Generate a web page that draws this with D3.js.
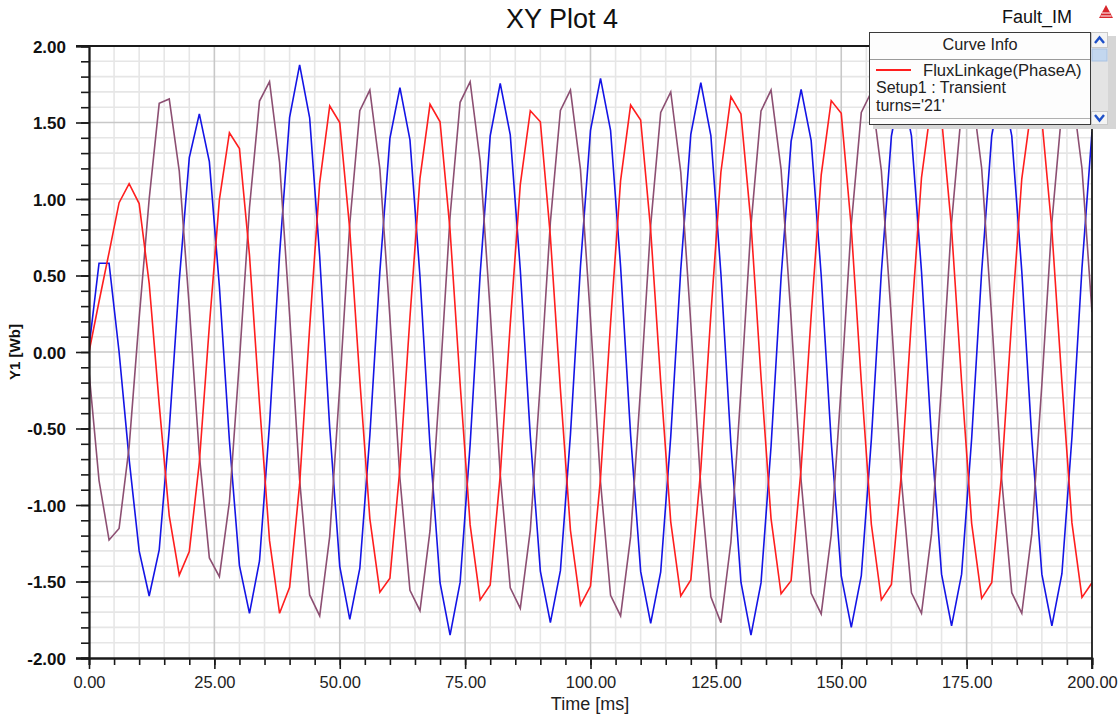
<!DOCTYPE html>
<html>
<head>
<meta charset="utf-8">
<script src="https://cdn.jsdelivr.net/npm/d3@7"></script>
<style>
  html, body { margin: 0; padding: 0; background: #ffffff; }
  svg { display: block; font-family: "Liberation Sans", Arial, sans-serif; }
</style>
</head>
<body>
<svg id="chart" width="1120" height="720"></svg>
<script>
// Sample times [ms]
const timeMs = [
  0, 2, 4, 6, 8, 10, 12, 14, 16, 18, 20, 22, 24, 26, 28, 30, 32, 34, 36, 38,
  40, 42, 44, 46, 48, 50, 52, 54, 56, 58, 60, 62, 64, 66, 68, 70, 72, 74, 76, 78,
  80, 82, 84, 86, 88, 90, 92, 94, 96, 98, 100, 102, 104, 106, 108, 110, 112, 114, 116, 118,
  120, 122, 124, 126, 128, 130, 132, 134, 136, 138, 140, 142, 144, 146, 148, 150, 152, 154, 156, 158,
  160, 162, 164, 166, 168, 170, 172, 174, 176, 178, 180, 182, 184, 186, 188, 190, 192, 194, 196, 198, 200
];

// Flux linkage [Wb], phase A (red)
const fluxPhaseA = [
  0, 0.33, 0.65, 0.976, 1.10, 0.97, 0.449, -0.342, -1.071, -1.458,
  -1.305, -0.722, 0.172, 0.996, 1.433, 1.33, 0.633, -0.337, -1.233, -1.708,
  -1.538, -0.864, 0.161, 1.106, 1.608, 1.50, 0.799, -0.183, -1.089, -1.57,
  -1.479, -0.758, 0.227, 1.137, 1.619, 1.505, 0.795, -0.206, -1.13, -1.62,
  -1.523, -0.806, 0.182, 1.094, 1.577, 1.505, 0.754, -0.244, -1.165, -1.654,
  -1.53, -0.822, 0.188, 1.12, 1.614, 1.516, 0.797, -0.195, -1.11, -1.595,
  -1.49, -0.764, 0.245, 1.175, 1.669, 1.556, 0.842, -0.162, -1.089, -1.58,
  -1.495, -0.759, 0.237, 1.156, 1.643, 1.56, 0.812, -0.196, -1.126, -1.62,
  -1.52, -0.793, 0.212, 1.139, 1.63, 1.53, 0.805, -0.196, -1.12, -1.61,
  -1.508, -0.788, 0.211, 1.132, 1.62, 1.52, 0.799, -0.197, -1.117, -1.604,
  -1.508
];

// Flux linkage [Wb], phase B (blue)
const fluxPhaseB = [
  0.03, 0.58, 0.58, 0.0, -0.70, -1.30, -1.595, -1.294, -0.506, 0.467,
  1.27, 1.556, 1.244, 0.428, -0.58, -1.396, -1.708, -1.366, -0.47, 0.638,
  1.534, 1.876, 1.53, 0.624, -0.495, -1.401, -1.747, -1.415, -0.546, 0.527,
  1.396, 1.728, 1.386, 0.492, -0.614, -1.508, -1.85, -1.506, -0.604, 0.51,
  1.412, 1.756, 1.419, 0.538, -0.551, -1.432, -1.769, -1.429, -0.54, 0.56,
  1.449, 1.789, 1.449, 0.558, -0.543, -1.434, -1.774, -1.437, -0.553, 0.539,
  1.423, 1.76, 1.415, 0.513, -0.603, -1.505, -1.85, -1.509, -0.618, 0.485,
  1.376, 1.717, 1.381, 0.502, -0.585, -1.464, -1.80, -1.461, -0.573, 0.523,
  1.411, 1.75, 1.412, 0.527, -0.567, -1.452, -1.79, -1.452, -0.567, 0.527,
  1.412, 1.75, 1.412, 0.527, -0.567, -1.452, -1.79, -1.449, -0.557, 0.547,
  1.439
];

// Flux linkage [Wb], phase C (mauve)
const fluxPhaseC = [
  -0.13, -0.84, -1.229, -1.153, -0.62, 0.22, 1.0, 1.625, 1.654, 1.182,
  0.292, -0.673, -1.346, -1.468, -0.979, -0.056, 0.943, 1.64, 1.767, 1.239,
  0.243, -0.836, -1.588, -1.725, -1.205, -0.225, 0.837, 1.577, 1.712, 1.198,
  0.227, -0.825, -1.558, -1.691, -1.168, -0.182, 0.887, 1.632, 1.767, 1.246,
  0.265, -0.799, -1.541, -1.676, -1.164, -0.198, 0.849, 1.579, 1.712, 1.192,
  0.212, -0.85, -1.59, -1.725, -1.207, -0.231, 0.828, 1.566, 1.70, 1.175,
  0.186, -0.886, -1.60, -1.769, -1.242, -0.25, 0.826, 1.575, 1.712, 1.194,
  0.218, -0.84, -1.577, -1.712, -1.196, -0.223, 0.831, 1.566, 1.70, 1.184,
  0.213, -0.84, -1.574, -1.708, -1.189, -0.212, 0.847, 1.585, 1.72, 1.201,
  0.224, -0.835, -1.573, -1.708, -1.189, -0.212, 0.847, 1.585, 1.72, 1.201,
  0.26
];

const yTickValues = [2.0, 1.5, 1.0, 0.5, 0.0, -0.5, -1.0, -1.5, -2.0];
const xTickValues = [0, 25, 50, 75, 100, 125, 150, 175, 200];
const yMinorStep = 0.1;
const xMinorStep = 5;

const titleText = "XY Plot 4";
const designText = "Fault_IM";
const xTitle = "Time [ms]";
const yTitle = "Y1 [Wb]";
const legendHeader = "Curve Info";
const legendLines = ["FluxLinkage(PhaseA)", "Setup1 : Transient", "turns='21'"];

const series = [
  { name: "PhaseA", values: fluxPhaseA, color: "#ff1e1e" },
  { name: "PhaseB", values: fluxPhaseB, color: "#1414e6" },
  { name: "PhaseC", values: fluxPhaseC, color: "#8c4f72" }
];

// ---------------------------------------------------------------
const svg = d3.select("#chart");
const plot = { left: 89, right: 1092, top: 46, bottom: 658 };

const x = d3.scaleLinear().domain([0, 200]).range([plot.left, plot.right]);
const y = d3.scaleLinear().domain([-2, 2]).range([plot.bottom, plot.top]);

const fmt = v => v.toFixed(2);

const yMinor = d3.range(-20, 21).map(i => +(i * yMinorStep).toFixed(2));
const xMinor = d3.range(0, 41).map(i => i * xMinorStep);

// grid
const grid = svg.append("g");
grid.selectAll("line.vminor").data(xMinor.filter(v => v % 25 !== 0))
  .join("line")
  .attr("x1", d => x(d)).attr("x2", d => x(d))
  .attr("y1", plot.top).attr("y2", plot.bottom)
  .attr("stroke", "#e6e6e6").attr("stroke-width", 1.6);
grid.selectAll("line.hminor").data(yMinor.filter(v => Math.abs(Math.round(v * 10)) % 5 !== 0))
  .join("line")
  .attr("x1", plot.left).attr("x2", plot.right)
  .attr("y1", d => y(d)).attr("y2", d => y(d))
  .attr("stroke", "#e6e6e6").attr("stroke-width", 1.6);
grid.selectAll("line.vmajor").data(xTickValues.slice(1, -1))
  .join("line")
  .attr("x1", d => x(d)).attr("x2", d => x(d))
  .attr("y1", plot.top).attr("y2", plot.bottom)
  .attr("stroke", "#c8c8c8").attr("stroke-width", 1.6);
grid.selectAll("line.hmajor").data(yTickValues.slice(1, -1))
  .join("line")
  .attr("x1", plot.left).attr("x2", plot.right)
  .attr("y1", d => y(d)).attr("y2", d => y(d))
  .attr("stroke", "#c8c8c8").attr("stroke-width", 1.6);

// curves
svg.append("clipPath").attr("id", "plotClip")
  .append("rect")
  .attr("x", plot.left).attr("y", plot.top)
  .attr("width", plot.right - plot.left).attr("height", plot.bottom - plot.top);

const line = d3.line()
  .x((d, i) => x(timeMs[i]))
  .y(d => y(d));

const curves = svg.append("g").attr("clip-path", "url(#plotClip)");
[series[1], series[2], series[0]].forEach(s => {
  curves.append("path")
    .datum(s.values)
    .attr("fill", "none")
    .attr("stroke", s.color)
    .attr("stroke-width", 1.6)
    .attr("stroke-linejoin", "miter")
    .attr("d", line);
});

// frame
const frame = svg.append("g").attr("stroke", "#1a1a1a").attr("stroke-width", 1.8).attr("fill", "none");
frame.append("line").attr("x1", plot.left - 13).attr("x2", plot.right).attr("y1", plot.top).attr("y2", plot.top);
frame.append("line").attr("x1", plot.right).attr("x2", plot.right).attr("y1", plot.top).attr("y2", plot.bottom + 11);

// y axis
const yAxisMinor = d3.axisLeft(y).tickValues(yMinor).tickSize(8).tickFormat("");
const yAxisMajor = d3.axisLeft(y).tickValues(yTickValues).tickSize(13).tickPadding(10).tickFormat(fmt);
const gyMinor = svg.append("g").attr("transform", `translate(${plot.left},0)`).call(yAxisMinor);
const gy = svg.append("g").attr("transform", `translate(${plot.left},0)`).call(yAxisMajor);
[gyMinor, gy].forEach(g => {
  g.select(".domain").attr("stroke", "#1a1a1a").attr("stroke-width", 1.8);
  g.selectAll(".tick line").attr("stroke", "#1a1a1a").attr("stroke-width", 1.6);
});
gy.selectAll(".tick text")
  .attr("font-family", "'Liberation Sans', Arial, sans-serif")
  .attr("font-size", 17).attr("font-weight", "bold").attr("fill", "#111")
  .attr("dy", "0.36em");

// x axis
const xAxisMinor = d3.axisBottom(x).tickValues(xMinor).tickSize(7).tickFormat("");
const xAxisMajor = d3.axisBottom(x).tickValues(xTickValues).tickSize(11).tickPadding(7).tickFormat(fmt);
const gxMinor = svg.append("g").attr("transform", `translate(0,${plot.bottom})`).call(xAxisMinor);
const gx = svg.append("g").attr("transform", `translate(0,${plot.bottom})`).call(xAxisMajor);
[gxMinor, gx].forEach(g => {
  g.select(".domain").attr("stroke", "#1a1a1a").attr("stroke-width", 1.8);
  g.selectAll(".tick line").attr("stroke", "#1a1a1a").attr("stroke-width", 1.6);
});
gx.select(".domain").attr("d", `M${plot.left - 13},0.5H${plot.right}`);
gx.selectAll(".tick text")
  .attr("font-family", "'Liberation Sans', Arial, sans-serif")
  .attr("font-size", 16.5).attr("fill", "#222");

// titles
svg.append("text").attr("x", 562).attr("y", 28).attr("text-anchor", "middle")
  .attr("font-size", 27).attr("fill", "#111").text(titleText);
svg.append("text").attr("x", 1037).attr("y", 23).attr("text-anchor", "middle")
  .attr("font-size", 18).attr("fill", "#111").text(designText);
svg.append("text").attr("x", 590).attr("y", 710).attr("text-anchor", "middle")
  .attr("font-size", 18).attr("fill", "#222").text(xTitle);
svg.append("text").attr("transform", "translate(20,352) rotate(-90)").attr("text-anchor", "middle")
  .attr("font-size", 15).attr("font-weight", "bold").attr("fill", "#111").text(yTitle);

// logo mark
const logo = svg.append("g").attr("transform", "translate(1106,5)");
logo.append("path").attr("d", "M0,0 L7,13 L-7,13 Z").attr("fill", "#d8262c");
logo.append("path").attr("d", "M-4,8 L4,8 M-5.5,11 L5.5,11").attr("stroke", "#fff").attr("stroke-width", 1.2);

// curve info box
const lg = svg.append("g");
lg.append("rect").attr("x", 1093).attr("y", 36).attr("width", 23).attr("height", 93).attr("fill", "#d6d6d6");
lg.append("rect").attr("x", 873).attr("y", 125).attr("width", 243).attr("height", 4).attr("fill", "#d6d6d6");
lg.append("rect").attr("x", 869.5).attr("y", 32.5).attr("width", 221).attr("height", 92)
  .attr("fill", "#fdfdfd").attr("stroke", "#3a3a3a").attr("stroke-width", 1);
lg.append("text").attr("x", 980).attr("y", 50).attr("text-anchor", "middle")
  .attr("font-size", 16.3).attr("fill", "#222").text(legendHeader);
lg.append("line").attr("x1", 870).attr("x2", 1090).attr("y1", 59.5).attr("y2", 59.5)
  .attr("stroke", "#9a9a9a").attr("stroke-width", 1);
lg.append("line").attr("x1", 870).attr("x2", 1090).attr("y1", 118.5).attr("y2", 118.5)
  .attr("stroke", "#b0b0b0").attr("stroke-width", 1);
lg.append("line").attr("x1", 876).attr("x2", 911).attr("y1", 70).attr("y2", 70)
  .attr("stroke", series[0].color).attr("stroke-width", 2);
lg.append("text").attr("x", 923).attr("y", 76).attr("font-size", 16.6).attr("fill", "#222").text(legendLines[0]);
lg.append("text").attr("x", 876).attr("y", 93).attr("font-size", 16).attr("fill", "#222").text(legendLines[1]);
lg.append("text").attr("x", 876).attr("y", 111).attr("font-size", 16).attr("fill", "#222").text(legendLines[2]);

// scrollbar
const sb = svg.append("g").attr("transform", "translate(1091,32)");
sb.append("rect").attr("x", 0).attr("y", 0).attr("width", 17).attr("height", 93).attr("fill", "#e4e4e4");
sb.append("rect").attr("x", 0.5).attr("y", 0.5).attr("width", 16).attr("height", 15).attr("fill", "#f4f4f4").attr("stroke", "#c8c8c8");
sb.append("rect").attr("x", 1).attr("y", 17).attr("width", 15).attr("height", 12).attr("fill", "#c3d7ef").attr("stroke", "#a9c2e2");
sb.append("rect").attr("x", 0.5).attr("y", 79.5).attr("width", 16).attr("height", 13).attr("fill", "#f4f4f4").attr("stroke", "#c8c8c8");
sb.append("path").attr("d", "M4,11 L8.5,5.5 L13,11").attr("fill", "none").attr("stroke", "#1e50c8").attr("stroke-width", 2.4);
sb.append("path").attr("d", "M4,83 L8.5,88.5 L13,83").attr("fill", "none").attr("stroke", "#1e50c8").attr("stroke-width", 2.4);
</script>
</body>
</html>
